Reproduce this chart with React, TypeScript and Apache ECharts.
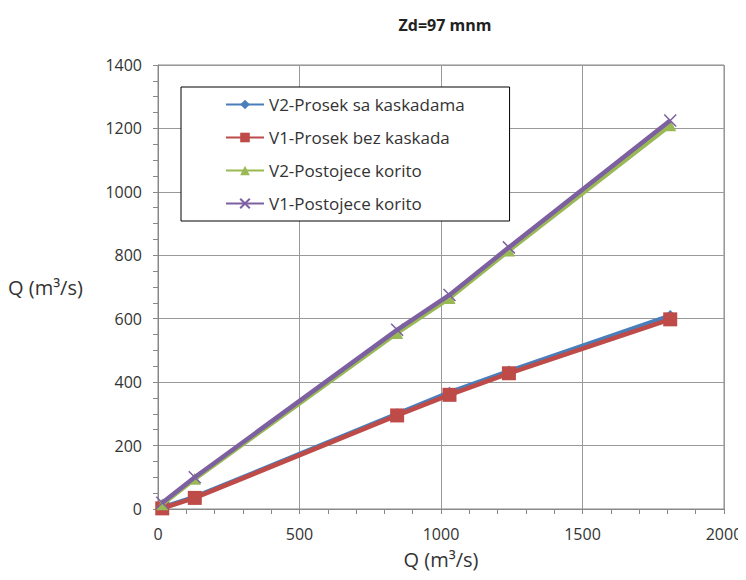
import React, { useEffect, useRef } from "react";
import * as echarts from "echarts";

const xValues = [15, 130, 845, 1030, 1240, 1810];
const seriesNames = [
  "V2-Prosek sa kaskadama",
  "V1-Prosek bez kaskada",
  "V2-Postojece korito",
  "V1-Postojece korito",
];
const v2Prosek = [5, 38, 300, 368, 435, 610];
const v1Prosek = [2, 35, 295, 360, 428, 598];
const v2Postojece = [15, 95, 555, 665, 815, 1210];
const v1Postojece = [20, 100, 565, 675, 825, 1225];
const colors = ["#4a7ebb", "#be4b48", "#98b954", "#7d60a0"];
const symbols = [
  "diamond",
  "rect",
  "triangle",
  "path://M0,0L10,10M10,0L0,10",
];
const symbolSizes = [11, 14, 12, 12];

const FONT = "'Open Sans', 'Liberation Sans', sans-serif";

export default function App() {
  const ref = useRef<HTMLDivElement>(null);
  useEffect(() => {
    if (!ref.current) return;
    const chart = echarts.init(ref.current, undefined, { renderer: "svg" });
    const all = [v2Prosek, v1Prosek, v2Postojece, v1Postojece];
    const series = all.map((vals, i) => ({
      name: seriesNames[i],
      type: "line",
      data: vals.map((v, j) => [xValues[j], v]),
      symbol: symbols[i],
      symbolSize: symbolSizes[i],
      showSymbol: true,
      lineStyle: { color: colors[i], width: 4.5 },
      itemStyle:
        i === 3
          ? { color: "none", borderColor: colors[i], borderWidth: 1.5 }
          : { color: colors[i], borderWidth: 0 },
      z: 2 + i,
    }));
    chart.setOption({
      animation: false,
      backgroundColor: "#fff",
      textStyle: { fontFamily: FONT },
      title: {
        text: "Zd=97 mnm",
        left: 440,
        top: 12,
        textAlign: "center",
        textStyle: { fontSize: 16, fontWeight: "bold", color: "#222", fontFamily: FONT },
      },
      grid: {
        left: 158,
        right: 22,
        top: 65,
        bottom: 71,
        outerBoundsMode: "none",
        containLabel: false,
        show: true,
        borderColor: "#888",
        borderWidth: 1,
      },
      legend: {
        orient: "vertical",
        left: 181,
        top: 87,
        padding: [9, 45, 9, 44],
        itemGap: 16,
        itemWidth: 38,
        itemHeight: 12,
        backgroundColor: "#fff",
        borderColor: "#000",
        borderWidth: 1,
        textStyle: { fontSize: 17, color: "#333", fontFamily: FONT },
        data: seriesNames,
      },
      xAxis: {
        type: "value",
        min: 0,
        max: 2000,
        interval: 500,
        name: "Q (m³/s)",
        nameLocation: "middle",
        nameGap: 40,
        nameTextStyle: { fontSize: 20, color: "#333" },
        axisLine: { show: true, lineStyle: { color: "#888" } },
        axisTick: { show: true, length: 5, lineStyle: { color: "#888" } },
        minorTick: { show: true, splitNumber: 5, length: 5, lineStyle: { color: "#888" } },
        axisLabel: { fontSize: 16, color: "#333", margin: 17, formatter: (v: number) => String(v) },
        splitLine: { show: true, lineStyle: { color: "#999", width: 1 } },
      },
      yAxis: {
        type: "value",
        min: 0,
        max: 1400,
        interval: 200,
        axisLine: { show: true, lineStyle: { color: "#888" } },
        axisTick: { show: true, length: 5, lineStyle: { color: "#888" } },
        minorTick: { show: true, splitNumber: 4, length: 5, lineStyle: { color: "#888" } },
        axisLabel: { fontSize: 16, color: "#333", margin: 16, formatter: (v: number) => String(v) },
        splitLine: { show: true, lineStyle: { color: "#999", width: 1 } },
      },
      graphic: [
        {
          type: "text",
          left: 8,
          top: 277,
          style: { text: "Q (m³/s)", fontSize: 20, fill: "#333", fontFamily: FONT },
        },
      ],
      series,
    });
    return () => chart.dispose();
  }, []);
  return <div ref={ref} style={{ width: 746, height: 580, margin: -8 }} />;
}
